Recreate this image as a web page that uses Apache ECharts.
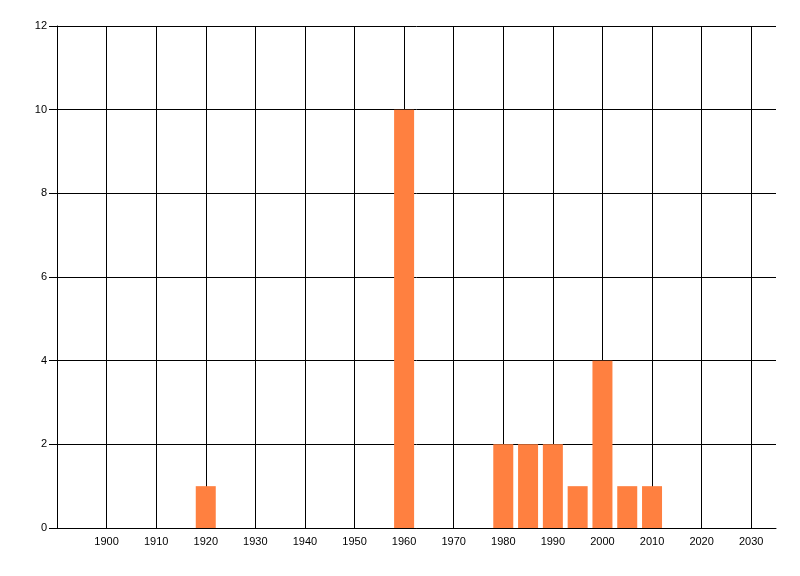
<!DOCTYPE html>
<html>
<head>
<meta charset="utf-8">
<script src="https://cdn.jsdelivr.net/npm/echarts@6/dist/echarts.min.js"></script>
<style>
    html, body { margin: 0; padding: 0; background: #fff; }
    #chart { width: 800px; height: 576px; }
</style>
</head>
<body>
<div id="chart"></div>
<script>
// values
var years = [1920, 1960, 1980, 1985, 1990, 1995, 2000, 2005, 2010];
var counts = [1, 10, 2, 2, 2, 1, 4, 1, 1];
var yearTicks = [1900, 1910, 1920, 1930, 1940, 1950, 1960, 1970, 1980, 1990, 2000, 2010, 2020, 2030];

var myChart = echarts.init(document.getElementById('chart'));

var points = [];
for (var i = 0; i < years.length; i++) {
    points.push([years[i], counts[i]]);
}

var option = {
    animation: false,
    grid: { left: 57, right: 24, top: 26, bottom: 48 },
    xAxis: {
        type: 'value',
        min: 1890,
        max: 2035,
        interval: 10,
        axisLine: { show: true, lineStyle: { color: '#000', width: 1 } },
        axisTick: { show: false },
        axisLabel: {
            color: '#000',
            fontSize: 11,
            fontFamily: 'Liberation Sans',
            margin: 8,
            formatter: function (v) {
                return yearTicks.indexOf(v) >= 0 ? String(v) : '';
            }
        },
        splitLine: { show: true, showMinLine: false, showMaxLine: false, lineStyle: { color: '#000', width: 1 } }
    },
    yAxis: {
        type: 'value',
        min: 0,
        max: 12,
        interval: 2,
        axisLine: { show: true, lineStyle: { color: '#000', width: 1 } },
        axisTick: { show: true, length: 8, lineStyle: { color: '#000' } },
        axisLabel: { color: '#000', fontSize: 11, fontFamily: 'Liberation Sans', margin: 10 },
        splitLine: { show: true, lineStyle: { color: '#000', width: 1 } }
    },
    series: [
        {
            type: 'bar',
            data: points,
            barWidth: 20,
            itemStyle: { color: '#FF8040' }
        }
    ]
};

myChart.setOption(option);
</script>
</body>
</html>
